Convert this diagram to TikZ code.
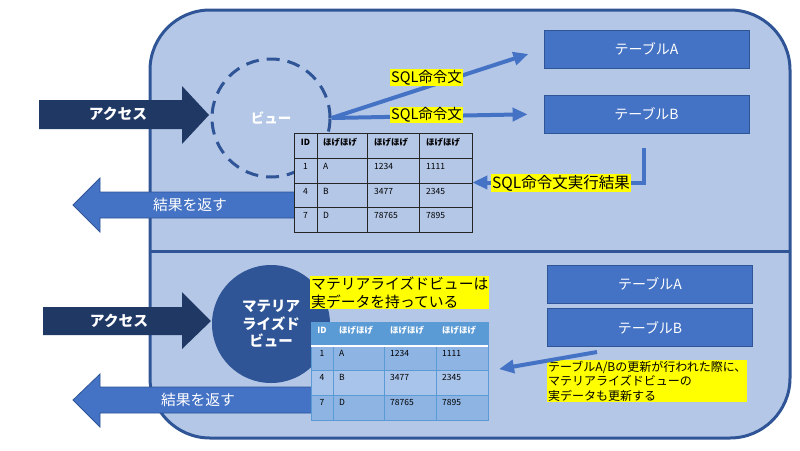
\documentclass[tikz,border=0pt]{standalone}
\usepackage{fontspec}
\setmainfont{Noto Sans CJK JP}
\usetikzlibrary{arrows.meta}

\definecolor{panelbg}{HTML}{B4C7E7}
\definecolor{panelline}{HTML}{2F5597}
\definecolor{navy}{HTML}{203864}
\definecolor{midblue}{HTML}{4472C4}
\definecolor{headblue}{HTML}{5B9BD5}
\definecolor{rowdark}{HTML}{8EB4E3}
\definecolor{rowlight}{HTML}{A8C4EA}
\definecolor{hilite}{HTML}{FFFF00}
\definecolor{gridline}{HTML}{262626}

\tikzstyle{tablebox} = [draw=panelline,fill=midblue,line width=0.8pt,minimum width=205pt,minimum height=38pt,text=white,font=\fontsize{14}{16}\selectfont]
\tikzstyle{note} = [fill=hilite,inner sep=1pt,font=\fontsize{14.5}{17}\selectfont]
\tikzstyle{cell} = [inner sep=0pt,font=\fontsize{8.5}{10}\selectfont]
\tikzstyle{cellhead} = [inner sep=0pt,font=\fontsize{8.5}{10}\selectfont\bfseries]
\tikzstyle{flow} = [midblue,line width=4pt,-{Triangle[length=15pt,width=13pt]}]
\tikzstyle{access} = [fill=navy]
\tikzstyle{result} = [fill=midblue,draw=panelline,line width=0.8pt]
\tikzstyle{arrowtext} = [text=white,font=\fontsize{14.8}{17}\selectfont]
\tikzstyle{accesstext} = [text=white,font=\fontsize{14.8}{17}\selectfont\bfseries]

\begin{document}
\begin{tikzpicture}[x=1pt,y=-1pt]
	\useasboundingbox (0,0) rectangle (800,450);
	% panel
	\draw[fill=panelbg,draw=panelline,line width=3pt,rounded corners=60pt] (150,10) rectangle (790,438);
	\draw[panelline,line width=3pt] (150,251) -- (790,251);

	% upper half: view
	\fill[access] (39,100) -- (182,100) -- (182,86) -- (209,115) -- (182,144) -- (182,129) -- (39,129) -- cycle;
	\node[accesstext] (access1) at (118,114) {アクセス};
	\node[circle,draw=panelline,line width=3pt,dash pattern=on 13pt off 8pt,minimum size=118pt,
		text=white,font=\fontsize{13.5}{16}\selectfont\bfseries] (view) at (271,118) {ビュー};
	\draw[result] (295,192) -- (100,192) -- (100,178) -- (73,205) -- (100,232) -- (100,218) -- (295,218) -- cycle;
	\node[arrowtext] (back1) at (190,205) {結果を返す};
	\node[draw=gridline,fill=panelbg,line width=0.8pt,minimum width=178pt,minimum height=99pt,inner sep=0pt] (utable) at (383,182.5) {};
	\draw[gridline,line width=0.8pt] (294,158) -- (472,158) (294,183) -- (472,183) (294,207) -- (472,207)
		(317,133) -- (317,232) (367,133) -- (367,232) (419,133) -- (419,232);
	\node[cellhead] (uh1) at (305.5,142) {ID};
	\node[cellhead,anchor=west] (uh2) at (323,142) {ほげほげ};
	\node[cellhead,anchor=west] (uh3) at (374,142) {ほげほげ};
	\node[cellhead,anchor=west] (uh4) at (426,142) {ほげほげ};
	\foreach \y/\i/\n/\p/\q [count=\r] in {166/1/A/1234/1111,191/4/B/3477/2345,215/7/D/78765/7895}{
		\node[cell] (u\r-1) at (305.5,\y) {\i};
		\node[cell,anchor=west] (u\r-2) at (323,\y) {\n};
		\node[cell,anchor=west] (u\r-3) at (374,\y) {\p};
		\node[cell,anchor=west] (u\r-4) at (426,\y) {\q};
	}
	\node[tablebox] (ta1) at (646.5,49) {テーブルA};
	\node[tablebox] (tb1) at (646.5,114) {テーブルB};
	\draw[flow,shorten >=16pt] (view.east) -- (ta1.west);
	\draw[flow,shorten >=16pt] (view.east) -- (tb1.west);
	\node[note] (sql1) at (426.5,77.5) {SQL命令文};
	\node[note] (sql2) at (426.5,115) {SQL命令文};
	\draw[flow,shorten <=15pt] ([xshift=-3pt]tb1.south) |- (utable.east);
	\node[note,font=\fontsize{15.5}{18}\selectfont] (sqlres) at (561,183) {SQL命令文実行結果};

	% lower half: materialized view
	\fill[access] (43,307) -- (182,307) -- (182,292) -- (211,321) -- (182,349) -- (182,335) -- (43,335) -- cycle;
	\node[accesstext] (access2) at (119,321) {アクセス};
	\node[circle,fill=panelline,minimum size=118pt,text=white,align=center,
		font=\fontsize{14.5}{17.5}\selectfont\bfseries] (mview) at (271,324) {マテリア\\ライズド\\ビュー};
	\draw[result] (313,387) -- (100,387) -- (100,374) -- (73,400) -- (100,427) -- (100,413) -- (313,413) -- cycle;
	\node[arrowtext] (back2) at (198,400) {結果を返す};
	\node[minimum width=177pt,minimum height=98pt,inner sep=0pt] (ltable) at (399.5,371) {};
	\fill[headblue] (311,322) rectangle (488,346);
	\fill[rowdark] (311,346) rectangle (488,370);
	\fill[rowlight] (311,370) rectangle (488,395);
	\fill[rowdark] (311,395) rectangle (488,420);
	\draw[headblue,line width=1pt] (311,322) rectangle (488,420) (311,370) -- (488,370) (311,395) -- (488,395)
		(333,322) -- (333,420) (384,322) -- (384,420) (436,322) -- (436,420);
	\draw[white,line width=1.5pt] (311,346) -- (488,346);
	\node[cellhead,text=white] (lh1) at (322,330) {ID};
	\node[cellhead,text=white,anchor=west] (lh2) at (339,330) {ほげほげ};
	\node[cellhead,text=white,anchor=west] (lh3) at (390,330) {ほげほげ};
	\node[cellhead,text=white,anchor=west] (lh4) at (442,330) {ほげほげ};
	\foreach \y/\i/\n/\p/\q [count=\r] in {353/1/A/1234/1111,377/4/B/3477/2345,402/7/D/78765/7895}{
		\node[cell] (l\r-1) at (322,\y) {\i};
		\node[cell,anchor=west] (l\r-2) at (339,\y) {\n};
		\node[cell,anchor=west] (l\r-3) at (390,\y) {\p};
		\node[cell,anchor=west] (l\r-4) at (442,\y) {\q};
	}
	\node[note,anchor=north west,align=left,font=\fontsize{14.8}{17.5}\selectfont] (mnote) at (310,276)
		{マテリアライズドビューは\\実データを持っている};
	\node[tablebox] (ta2) at (650,284) {テーブルA};
	\node[tablebox] (tb2) at (650,327.5) {テーブルB};
	\node[note,anchor=north west,align=left,font=\fontsize{12}{14.3}\selectfont] (unote) at (547,360)
		{テーブルA/Bの更新が行われた際に、\\マテリアライズドビューの\\実データも更新する};
	\coordinate (upd) at (597,352);
	\draw[flow,shorten >=11pt] (upd) -- (ltable.east);
\end{tikzpicture}
\end{document}
